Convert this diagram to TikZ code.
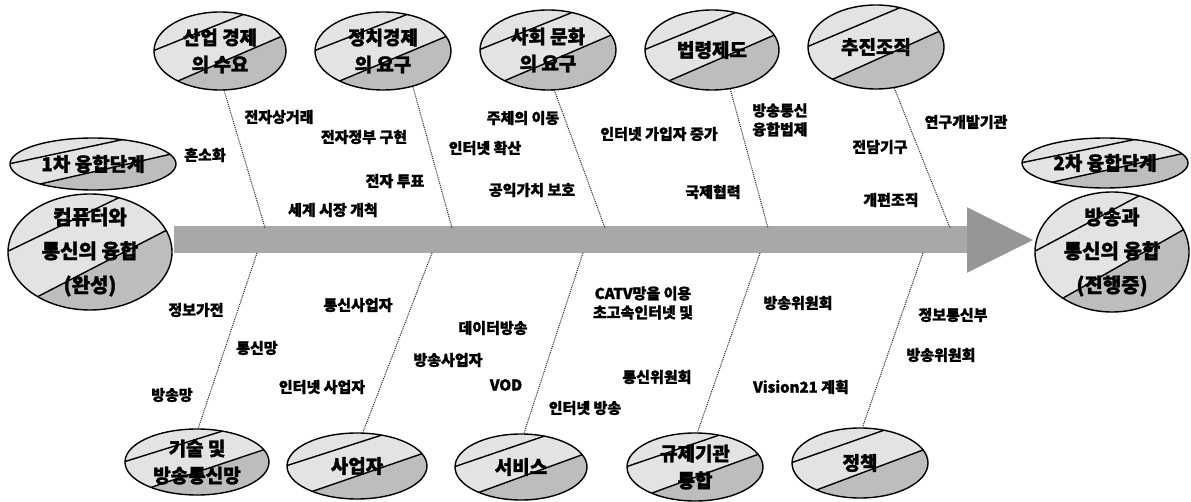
\documentclass[tikz,border=0pt]{standalone}
\usepackage{fontspec}
\setmainfont{Noto Sans CJK KR}[BoldFeatures={FakeBold=1.5}]
\usetikzlibrary{shapes.geometric,arrows.meta}
\tikzset{
 ell/.style 2 args={ellipse, draw=black, line width=1.4pt, inner sep=0pt,
   minimum width={2*#1pt}, minimum height={2*#2pt},
   path picture={\begin{scope}[shift={(path picture bounding box.center)}, x=#1pt, y=-#2pt]
     \fill[gray!22] (-2,-2) rectangle (2,2);
     \fill[gray!52] (-1.51,1.405) -- (1.81,-1.015) -- (2,2) -- (-2,2) -- cycle;
     \draw[line width=1.4pt] (-1.68,0.45) -- (1.15,-1.48);
     \draw[line width=1.4pt] (-1.51,1.405) -- (1.81,-1.015);
   \end{scope}}},
 etext/.style={align=center, font=\fontsize{19}{27}\selectfont\bfseries, inner sep=0pt},
 btext/.style={align=center, font=\fontsize{20}{34}\selectfont\bfseries, inner sep=0pt},
 lbl/.style={font=\fontsize{15}{19}\selectfont\bfseries, inner sep=0pt, align=center},
 bone/.style={densely dotted, line width=1pt, draw=black!85},
 spine/.style={line width=27pt, draw=gray!68, -{Triangle[length=68pt,width=60pt,color=gray!82]}},
}
\begin{document}
\begin{tikzpicture}[x=1pt,y=-1pt]
\useasboundingbox (0,0) rectangle (1191,502);
% spine
\coordinate (s0) at (174,240);
\coordinate (s1) at (1035,240);
\draw[spine] (s0) -- (s1);
% left and right ellipses
\node[ell={83}{26}] (eL1) at (93,164) {};
\node[etext] (tL1) at (eL1) {1차 융합단계};
\node[ell={82}{58}] (eL) at (90,252) {};
\node[btext] (tL) at (eL) {컴퓨터와\\통신의 융합\\(완성)};
\node[ell={83}{25}] (eR1) at (1105,163) {};
\node[etext] (tR1) at (eR1) {2차 융합단계};
\node[ell={77}{60}] (eR) at (1112,252) {};
\node[btext] (tR) at (eR) {방송과\\통신의 융합\\(진행중)};
% top ellipses
\node[ell={66}{39}] (e1) at (220,51) {};
\node[etext] (te1) at (e1) {산업 경제\\의 수요};
\node[ell={68}{39}] (e2) at (383,51) {};
\node[etext] (te2) at (e2) {정치경제\\의 요구};
\node[ell={68}{40}] (e3) at (548,50) {};
\node[etext] (te3) at (e3) {사회 문화\\의 요구};
\node[ell={67}{40}] (e4) at (712,50) {};
\node[etext] (te4) at (e4) {법령제도};
\node[ell={68}{42}] (e5) at (876,47) {};
\node[etext] (te5) at (e5) {추진조직};
% bottom ellipses
\node[ell={72}{33}] (b1) at (197,462) {};
\node[etext] (tb1) at (b1) {기술 및\\방송통신망};
\node[ell={70}{33}] (b2) at (357,466) {};
\node[etext] (tb2) at (b2) {사업자};
\node[ell={66}{33}] (b3) at (521,467) {};
\node[etext] (tb3) at (b3) {서비스};
\node[ell={68}{34}] (b4) at (695,467) {};
\node[etext] (tb4) at (b4) {규제기관\\통합};
\node[ell={68}{35}] (b5) at (860,463) {};
\node[etext] (tb5) at (b5) {정책};
% bone ends on spine
\coordinate (t1) at (265,228);
\coordinate (t2) at (452,228);
\coordinate (t3) at (605,228);
\coordinate (t4) at (768,228);
\coordinate (t5) at (950,228);
\coordinate (u1) at (257,253);
\coordinate (u2) at (432,253);
\coordinate (u3) at (583,253);
\coordinate (u4) at (760,253);
\coordinate (u5) at (923,253);
\draw[bone] (e1.-84) -- (t1);
\draw[bone] (e2.-50) -- (t2);
\draw[bone] (e3.-81) -- (t3);
\draw[bone] (e4.-65) -- (t4);
\draw[bone] (e5.-66) -- (t5);
\draw[bone] (u1) -- (b1.88);
\draw[bone] (u2) -- (b2.80);
\draw[bone] (u3) -- (b3.85);
\draw[bone] (u4) -- (b4.86);
\draw[bone] (u5) -- (b5.86);
% top labels
\node[lbl] (l1) at (279,117) {전자상거래};
\node[lbl] (l2) at (205,155) {흔소화};
\node[lbl] (l3) at (364,137) {전자정부 구현};
\node[lbl] (l4) at (395,181) {전자 투표};
\node[lbl] (l5) at (333,210) {세계 시장 개척};
\node[lbl] (l6) at (523,118) {주체의 이동};
\node[lbl] (l7) at (485,148) {인터넷 확산};
\node[lbl] (l8) at (532,190) {공익가치 보호};
\node[lbl] (l9) at (659,134) {인터넷 가입자 증가};
\node[lbl] (l10) at (713,192) {국제협력};
\node[lbl] (l11) at (780,120) {방송통신\\융합법제};
\node[lbl] (l12) at (966,122) {연구개발기관};
\node[lbl] (l13) at (880,147) {전담기구};
\node[lbl] (l14) at (891,200) {개편조직};
% bottom labels
\node[lbl] (m1) at (196,310) {정보가전};
\node[lbl] (m2) at (257,348) {통신망};
\node[lbl] (m3) at (172,395) {방송망};
\node[lbl] (m4) at (358,305) {통신사업자};
\node[lbl] (m5) at (322,387) {인터넷 사업자};
\node[lbl] (m6) at (448,360) {방송사업자};
\node[lbl] (m7) at (493,328) {데이터방송};
\node[lbl] (m8) at (506,385) {VOD};
\node[lbl] (m9) at (643,303) {CATV망을 이용\\초고속인터넷 및};
\node[lbl] (m10) at (657,377) {통신위원회};
\node[lbl] (m11) at (585,408) {인터넷 방송};
\node[lbl] (m12) at (798,303) {방송위원회};
\node[lbl] (m13) at (801,387) {Vision21 계획};
\node[lbl] (m14) at (953,315) {정보통신부};
\node[lbl] (m15) at (941,355) {방송위원회};
\end{tikzpicture}
\end{document}
